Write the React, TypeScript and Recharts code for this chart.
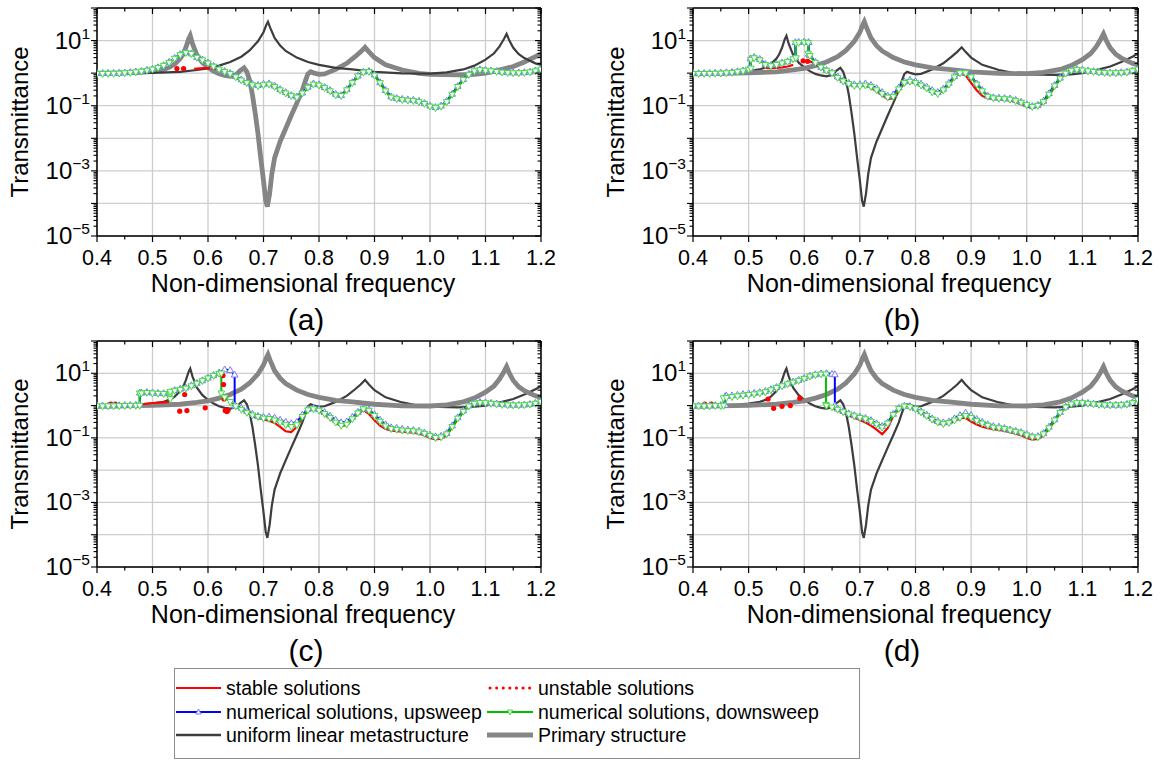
import React from 'react';
import { LineChart, Line, XAxis, YAxis, CartesianGrid } from 'recharts';

const FONT = '"Liberation Sans", Arial, Helvetica, sans-serif';

// frequency grid shared by the sweep / solution curves
const FREQ = [
  0.40, 0.41, 0.42, 0.43, 0.44, 0.45, 0.46, 0.47, 0.48, 0.49,
  0.50, 0.51, 0.52, 0.53, 0.54, 0.55, 0.56, 0.57, 0.58, 0.59,
  0.60, 0.61, 0.62, 0.63, 0.64, 0.65, 0.66, 0.67, 0.68, 0.69,
  0.70, 0.71, 0.72, 0.73, 0.74, 0.75, 0.76, 0.77, 0.78, 0.79,
  0.80, 0.81, 0.82, 0.83, 0.84, 0.85, 0.86, 0.87, 0.88, 0.89,
  0.90, 0.91, 0.92, 0.93, 0.94, 0.95, 0.96, 0.97, 0.98, 0.99,
  1.00, 1.01, 1.02, 1.03, 1.04, 1.05, 1.06, 1.07, 1.08, 1.09,
  1.10, 1.11, 1.12, 1.13, 1.14, 1.15, 1.16, 1.17, 1.18, 1.19,
  1.20,
];

const X_MAJOR = [0.4, 0.5, 0.6, 0.7, 0.8, 0.9, 1.0, 1.1, 1.2];
const X_LABELS = ['0.4', '0.5', '0.6', '0.7', '0.8', '0.9', '1.0', '1.1', '1.2'];
const X_MINOR = [0.45, 0.55, 0.65, 0.75, 0.85, 0.95, 1.05, 1.15];
const Y_DECADES = [1e-5, 1e-4, 1e-3, 1e-2, 1e-1, 1, 10, 100];
const Y_LABELED = [1e-5, 1e-3, 1e-1, 10];
const Y_EXPONENTS = ['\u22125', '\u22123', '\u22121', '1'];

// linear reference curves [frequency, transmittance]
const METASTRUCTURE = [
  [0.40, 1.0], [0.44, 1.02], [0.48, 1.08], [0.50, 1.15], [0.52, 1.3], [0.53, 1.5], [0.54, 1.9],
  [0.55, 2.8], [0.555, 3.8], [0.56, 6], [0.565, 11], [0.568, 14], [0.572, 8], [0.58, 3.6],
  [0.59, 2.1], [0.60, 1.5], [0.61, 1.15], [0.62, 0.95], [0.63, 0.85], [0.64, 0.8], [0.65, 0.88],
  [0.658, 1.2], [0.665, 1.45], [0.67, 1.1], [0.675, 0.6], [0.68, 0.22], [0.685, 0.06],
  [0.69, 0.014], [0.695, 0.0025], [0.70, 0.0005], [0.704, 0.00012], [0.707, 0.00008],
  [0.711, 0.0002], [0.715, 0.0008], [0.72, 0.0025], [0.73, 0.008], [0.74, 0.02], [0.75, 0.05],
  [0.76, 0.12], [0.77, 0.3], [0.775, 0.55], [0.78, 0.95], [0.785, 1.1], [0.79, 1.02],
  [0.80, 0.92], [0.81, 0.95], [0.83, 1.3], [0.85, 2.0], [0.865, 3.2], [0.875, 4.5],
  [0.883, 6.2], [0.89, 4.5], [0.90, 3.0], [0.92, 1.8], [0.95, 1.25], [0.98, 0.98], [1.0, 0.92],
  [1.05, 0.88], [1.08, 0.92], [1.10, 1.0], [1.13, 1.3], [1.15, 1.6], [1.17, 2.2], [1.19, 3.2],
  [1.20, 4.0],
];

const PRIMARY = [
  [0.40, 0.95], [0.45, 0.98], [0.50, 1.02], [0.55, 1.1], [0.58, 1.25], [0.60, 1.4], [0.62, 1.7],
  [0.64, 2.2], [0.66, 3.2], [0.675, 5], [0.69, 9.5], [0.70, 18], [0.705, 30], [0.708, 38],
  [0.712, 25], [0.72, 12], [0.73, 7], [0.74, 4.8], [0.76, 3], [0.78, 2.2], [0.80, 1.8],
  [0.83, 1.45], [0.86, 1.3], [0.90, 1.1], [0.95, 0.98], [1.00, 0.97], [1.03, 1.05], [1.06, 1.3],
  [1.08, 1.7], [1.10, 2.6], [1.115, 4], [1.125, 6.5], [1.133, 11], [1.138, 16], [1.143, 10],
  [1.15, 6], [1.16, 3.8], [1.17, 2.9], [1.18, 2.4], [1.19, 2.0], [1.20, 1.8],
];

// (a)
const DOWN_A = [
  0.95, 0.95, 0.96, 0.97, 0.98, 1.0, 1.03, 1.07, 1.12, 1.2,
  1.3, 1.45, 1.7, 2.1, 2.8, 3.6, 4.2, 3.9, 3.0, 2.5,
  2.0, 1.6, 1.3, 1.1, 0.95, 0.75, 0.6, 0.5, 0.43, 0.4,
  0.43, 0.45, 0.38, 0.3, 0.24, 0.2, 0.18, 0.24, 0.36, 0.45,
  0.42, 0.35, 0.28, 0.21, 0.2, 0.3, 0.5, 0.8, 1.05, 1.1,
  0.85, 0.5, 0.28, 0.18, 0.16, 0.15, 0.145, 0.14, 0.13, 0.115,
  0.095, 0.085, 0.095, 0.13, 0.22, 0.38, 0.62, 0.9, 1.15, 1.25,
  1.2, 1.15, 1.1, 1.05, 1.02, 1.0, 1.0, 1.02, 1.07, 1.15,
  1.3,
];
const UP_A = [
  1.0, 1.0, 1.0, 1.01, 1.02, 1.04, 1.07, 1.11, 1.17, 1.25,
  1.35, 1.5, 1.75, 2.2, 2.9, 3.8, 4.4, 4.0, 3.1, 2.6,
  2.1, 1.65, 1.35, 1.15, 1.0, 0.8, 0.64, 0.53, 0.46, 0.43,
  0.47, 0.48, 0.41, 0.32, 0.26, 0.21, 0.19, 0.25, 0.38, 0.48,
  0.45, 0.37, 0.3, 0.23, 0.21, 0.32, 0.52, 0.83, 1.1, 1.15,
  0.9, 0.52, 0.3, 0.19, 0.17, 0.16, 0.155, 0.15, 0.14, 0.12,
  0.1, 0.09, 0.1, 0.14, 0.23, 0.4, 0.65, 0.95, 1.2, 1.3,
  1.25, 1.2, 1.15, 1.1, 1.06, 1.04, 1.04, 1.06, 1.1, 1.2,
  1.35,
];
const STABLE_A = [
  0.97, 0.97, 0.98, 0.99, 1.0, 1.02, 1.05, 1.09, 1.14, 1.22,
  1.32, 1.47, 1.72, 2.15, 2.85, 3.7, 4.3, null, null, null,
  null, null, 1.3, 1.1, 0.95, 0.75, 0.6, 0.5, 0.43, 0.4,
  0.43, 0.45, 0.38, 0.3, 0.24, 0.2, 0.18, 0.24, 0.36, 0.45,
  0.42, 0.35, 0.28, 0.21, 0.2, 0.3, 0.5, 0.8, 1.05, 1.1,
  0.85, 0.5, 0.28, 0.18, 0.16, 0.15, 0.145, 0.14, 0.13, 0.115,
  0.095, 0.085, 0.095, 0.13, 0.22, 0.38, 0.62, 0.9, 1.15, 1.25,
  1.2, 1.15, 1.1, 1.05, 1.02, 1.0, 1.0, 1.02, 1.07, 1.15,
  1.3,
];
const LOWER_A = [[0.575, 1.36], [0.585, 1.4], [0.595, 1.43], [0.605, 1.42], [0.615, 1.36], [0.62, 1.3]];
const UNSTABLE_A = [[0.544, 1.38], [0.556, 1.38]];

// (b)
const DOWN_B = [
  0.95, 0.95, 0.96, 0.96, 0.97, 0.98, 1.0, 1.03, 1.08, 1.15,
  1.3, 2.9, 2.5, 1.8, 1.65, 1.8, 2.0, 2.2, 2.7, 8.6,
  8.8, 3.4, 2.1, 1.5, 1.2, 1.0, 0.72, 0.56, 0.47, 0.41,
  0.4, 0.42, 0.38, 0.3, 0.23, 0.18, 0.19, 0.32, 0.5, 0.55,
  0.5, 0.42, 0.34, 0.26, 0.23, 0.3, 0.45, 0.75, 1.0, 1.0,
  0.75, 0.45, 0.28, 0.19, 0.17, 0.165, 0.16, 0.155, 0.14, 0.125,
  0.105, 0.092, 0.1, 0.13, 0.22, 0.4, 0.68, 0.98, 1.2, 1.28,
  1.22, 1.15, 1.1, 1.05, 1.02, 1.0, 1.0, 1.02, 1.06, 1.15,
  1.3,
];
const DOWN_B_JUMPS = [[0.504, 1.4], [0.504, 2.6], [0.585, 2.9], [0.585, 8.4], [0.607, 8.5], [0.607, 4.0]];
const UP_B = [
  1.0, 1.0, 1.0, 1.01, 1.02, 1.03, 1.05, 1.08, 1.13, 1.2,
  1.35, 3.1, 2.7, 1.9, 1.75, 1.9, 2.1, 2.3, 2.8, 9.0,
  9.2, 3.5, 2.2, 1.55, 1.25, 1.05, 0.78, 0.6, 0.5, 0.45,
  0.45, 0.48, 0.43, 0.34, 0.26, 0.2, 0.22, 0.36, 0.55, 0.62,
  0.56, 0.47, 0.38, 0.3, 0.26, 0.33, 0.5, 0.8, 1.05, 1.05,
  0.8, 0.48, 0.3, 0.2, 0.18, 0.175, 0.17, 0.165, 0.15, 0.13,
  0.11, 0.097, 0.105, 0.14, 0.24, 0.43, 0.72, 1.02, 1.25, 1.32,
  1.27, 1.2, 1.15, 1.1, 1.06, 1.04, 1.04, 1.06, 1.1, 1.2,
  1.35,
];
const UP_B_JUMPS = [[0.503, 1.45], [0.503, 2.8], [0.584, 3.0], [0.584, 8.8], [0.608, 8.9], [0.608, 3.9]];
const STABLE_B = [
  0.97, 0.97, 0.98, 0.98, 0.99, 1.0, 1.02, 1.05, 1.1, 1.17,
  1.32, null, null, 1.45, 1.42, 1.45, 1.5, 1.6, 1.8, null,
  null, 2.3, 1.9, 1.45, 1.15, 0.95, 0.7, 0.55, 0.46, 0.41,
  0.4, 0.41, 0.36, 0.28, 0.21, 0.16, 0.17, 0.3, 0.48, 0.54,
  0.5, 0.42, 0.34, 0.26, 0.23, 0.3, 0.45, 0.75, 1.0, 0.85,
  0.5, 0.3, 0.2, 0.17, 0.16, 0.155, 0.15, 0.145, 0.13, 0.115,
  0.095, 0.088, 0.095, 0.125, 0.21, 0.38, 0.66, 0.96, 1.18, 1.27,
  1.22, 1.15, 1.1, 1.05, 1.02, 1.0, 1.0, 1.02, 1.06, 1.15,
  1.3,
];
const UNSTABLE_B = [[0.598, 2.4], [0.606, 2.3]];

// (c)
const DOWN_C = [
  0.95, 0.95, 0.96, 0.96, 0.97, 0.98, 0.99, 1.0, 2.4, 2.5,
  2.4, 2.35, 2.3, 2.3, 2.9, 3.1, 3.4, 4.0, 4.8, 5.8,
  7.0, 8.4, 9.8, 1.8, 1.3, 0.95, 0.75, 0.6, 0.5, 0.45,
  0.4, 0.39, 0.35, 0.3, 0.25, 0.22, 0.25, 0.45, 0.72, 0.78,
  0.7, 0.55, 0.42, 0.3, 0.24, 0.26, 0.38, 0.58, 0.78, 0.7,
  0.48, 0.32, 0.23, 0.19, 0.18, 0.17, 0.165, 0.16, 0.15, 0.135,
  0.115, 0.1, 0.105, 0.13, 0.22, 0.4, 0.65, 0.95, 1.15, 1.22,
  1.2, 1.15, 1.1, 1.06, 1.03, 1.02, 1.02, 1.04, 1.08, 1.15,
  1.3,
];
const DOWN_C_JUMPS = [[0.477, 1.0], [0.477, 2.4], [0.532, 2.3], [0.532, 1.6], [0.532, 2.7], [0.624, 10], [0.624, 2.4]];
const UP_C = [
  1.0, 1.0, 1.0, 1.01, 1.02, 1.03, 1.04, 1.05, 2.5, 2.6,
  2.5, 2.45, 2.4, 2.45, 3.0, 3.3, 3.6, 4.2, 5.0, 6.0,
  7.3, 8.8, 10.5, 13, 12.5, 0.98, 0.85, 0.68, 0.55, 0.47,
  0.44, 0.45, 0.42, 0.36, 0.31, 0.28, 0.31, 0.52, 0.78, 0.84,
  0.77, 0.62, 0.48, 0.36, 0.3, 0.32, 0.44, 0.63, 0.82, 0.76,
  0.53, 0.36, 0.26, 0.21, 0.2, 0.19, 0.18, 0.175, 0.165, 0.145,
  0.125, 0.11, 0.115, 0.14, 0.24, 0.43, 0.7, 1.0, 1.2, 1.28,
  1.25, 1.2, 1.15, 1.1, 1.07, 1.05, 1.05, 1.07, 1.11, 1.2,
  1.35,
];
const UP_C_JUMPS = [[0.477, 1.05], [0.477, 2.5], [0.648, 9], [0.648, 1.0]];
const STABLE_C = [
  0.97, 0.97, 0.98, 0.98, 0.99, 1.0, 1.01, 1.03, 1.1, 1.15,
  1.2, 1.23, 1.26, 1.3, null, null, null, null, null, null,
  null, null, null, null, null, 0.95, 0.78, 0.6, 0.48, 0.41,
  0.37, 0.34, 0.29, 0.22, 0.16, 0.15, 0.22, 0.42, 0.7, 0.76,
  0.68, 0.53, 0.4, 0.29, 0.23, 0.25, 0.37, 0.56, 0.72, 0.55,
  0.35, 0.24, 0.19, 0.17, 0.16, 0.155, 0.15, 0.145, 0.135, 0.12,
  0.1, 0.09, 0.095, 0.12, 0.21, 0.38, 0.63, 0.93, 1.13, 1.2,
  1.18, 1.13, 1.08, 1.05, 1.02, 1.01, 1.01, 1.03, 1.07, 1.14,
  1.28,
];
const UNSTABLE_C = [
  [0.425, 1.12], [0.433, 1.12], [0.549, 0.67], [0.562, 0.7], [0.558, 2.2], [0.595, 0.85],
  [0.627, 8.5], [0.628, 4.5], [0.629, 1.6], [0.631, 0.7], [0.634, 0.65], [0.636, 0.72],
];

// (d)
const DOWN_D = [
  0.95, 0.95, 0.95, 0.96, 0.97, 0.98, 1.75, 1.85, 1.95, 2.05,
  2.15, 2.25, 2.4, 2.6, 3.0, 3.5, 4.0, 4.6, 5.2, 5.9,
  6.8, 8.0, 8.8, 9.3, 1.0, 0.88, 0.75, 0.63, 0.54, 0.47,
  0.42, 0.38, 0.32, 0.26, 0.21, 0.28, 0.52, 0.8, 0.95, 0.9,
  0.78, 0.62, 0.48, 0.37, 0.3, 0.27, 0.29, 0.35, 0.42, 0.48,
  0.42, 0.34, 0.28, 0.24, 0.21, 0.2, 0.19, 0.17, 0.155, 0.14,
  0.12, 0.105, 0.105, 0.13, 0.2, 0.35, 0.6, 0.88, 1.1, 1.2,
  1.2, 1.15, 1.1, 1.06, 1.03, 1.02, 1.02, 1.04, 1.08, 1.2,
  1.5,
];
const DOWN_D_JUMPS = [[0.455, 1.0], [0.455, 1.7], [0.639, 9.3], [0.639, 1.05]];
const UP_D = [
  1.0, 1.0, 1.0, 1.01, 1.02, 1.03, 2.0, 2.05, 2.15, 2.25,
  2.35, 2.45, 2.6, 2.8, 3.2, 3.7, 4.2, 4.8, 5.5, 6.2,
  7.1, 8.4, 9.2, 9.8, 10, 9.5, 0.8, 0.67, 0.57, 0.5,
  0.45, 0.41, 0.35, 0.28, 0.23, 0.3, 0.55, 0.84, 0.98, 0.95,
  0.82, 0.66, 0.52, 0.4, 0.33, 0.3, 0.32, 0.4, 0.5, 0.6,
  0.5, 0.38, 0.31, 0.26, 0.23, 0.22, 0.2, 0.18, 0.165, 0.15,
  0.13, 0.112, 0.112, 0.14, 0.22, 0.37, 0.63, 0.92, 1.15, 1.25,
  1.25, 1.2, 1.14, 1.1, 1.07, 1.05, 1.05, 1.07, 1.12, 1.25,
  1.55,
];
const UP_D_JUMPS = [[0.458, 1.03], [0.458, 1.95], [0.655, 9.2], [0.655, 1.0]];
const STABLE_D = [
  0.97, 0.97, 0.97, 0.98, 0.99, 1.0, null, null, null, null,
  null, null, null, null, null, null, null, null, null, null,
  null, null, null, null, 0.98, 0.86, 0.72, 0.6, 0.5, 0.42,
  0.36, 0.3, 0.24, 0.18, 0.13, 0.2, 0.48, 0.78, 0.95, 0.88,
  0.76, 0.6, 0.46, 0.35, 0.28, 0.26, 0.28, 0.33, 0.4, 0.42,
  0.32, 0.26, 0.22, 0.2, 0.185, 0.175, 0.165, 0.15, 0.135, 0.12,
  0.1, 0.088, 0.092, 0.12, 0.19, 0.33, 0.58, 0.86, 1.08, 1.18,
  1.18, 1.13, 1.08, 1.05, 1.02, 1.01, 1.01, 1.03, 1.08, 1.22,
  1.6,
];
const UNSTABLE_D = [[0.421, 1.12], [0.433, 1.12], [0.535, 1.6], [0.545, 0.82], [0.56, 0.95], [0.575, 1.0], [0.592, 1.7]];

const Y_MINOR = Y_DECADES.slice(0, -1).flatMap((d) => [2, 3, 4, 5, 6, 7, 8, 9].map((m) => m * d));
const Y_TICKS = [...Y_DECADES, ...Y_MINOR].sort((a, b) => a - b);
const X_TICKS = [...X_MAJOR, ...X_MINOR].sort((a, b) => a - b);

type Pt = { f: number; t: number | null };

const onGrid = (values: (number | null)[], jumps: number[][] = []): Pt[] => {
  const pts: Pt[] = FREQ.map((f, i) => ({ f, t: values[i] }));
  jumps.forEach(([f, t]) => pts.push({ f, t }));
  return pts.sort((a, b) => a.f - b.f);
};
const fromPairs = (pairs: number[][]): Pt[] => pairs.map(([f, t]) => ({ f, t }));

const xMajorIndex = (v: number) => X_MAJOR.findIndex((m) => Math.abs(m - v) < 1e-6);

const BottomTick = ({ x, y, payload }: any) => {
  const i = xMajorIndex(payload.value);
  return (
    <g>
      <line x1={x} x2={x} y1={y} y2={y + (i >= 0 ? 6 : 3.5)} stroke="#000" strokeWidth={1.2} />
      {i >= 0 && (
        <text x={x} y={y + 29} textAnchor="middle" fontSize={21.5} fontFamily={FONT} fill="#000">
          {X_LABELS[i]}
        </text>
      )}
    </g>
  );
};

const TopTick = ({ x, y, payload }: any) => {
  const i = xMajorIndex(payload.value);
  return <line x1={x} x2={x} y1={y} y2={y + (i >= 0 ? 6 : 3.5)} stroke="#000" strokeWidth={1.2} />;
};

const LeftTick = ({ x, y, payload }: any) => {
  const v = payload.value;
  const major = Y_DECADES.includes(v);
  const li = Y_LABELED.indexOf(v);
  return (
    <g>
      <line x1={x - (major ? 6 : 3.5)} x2={x} y1={y} y2={y} stroke="#000" strokeWidth={1.1} />
      {li >= 0 && (
        <text x={x - 7} y={y + 8} textAnchor="end" fontSize={24} fontFamily={FONT} fill="#000">
          10<tspan dy={-10} fontSize={15.5}>{Y_EXPONENTS[li]}</tspan>
        </text>
      )}
    </g>
  );
};

const RightTick = ({ x, y, payload }: any) => {
  const major = Y_DECADES.includes(payload.value);
  return <line x1={x - (major ? 6 : 3.5)} x2={x} y1={y} y2={y} stroke="#000" strokeWidth={1.1} />;
};

const upMarker = (p: any) => {
  const { cx, cy, index } = p;
  if (cx == null || cy == null || isNaN(cy)) return <g key={`u${index}`} />;
  return (
    <path
      key={`u${index}`}
      d={`M${cx},${cy - 3.6}L${cx + 3.3},${cy + 2.3}L${cx - 3.3},${cy + 2.3}Z`}
      fill="#fff"
      stroke="#7878ff"
      strokeWidth={1}
    />
  );
};

const downMarker = (p: any) => {
  const { cx, cy, index } = p;
  if (cx == null || cy == null || isNaN(cy)) return <g key={`d${index}`} />;
  return (
    <path
      key={`d${index}`}
      d={`M${cx},${cy + 3.6}L${cx + 3.3},${cy - 2.3}L${cx - 3.3},${cy - 2.3}Z`}
      fill="#fff"
      stroke="#3ddd3d"
      strokeWidth={1}
    />
  );
};

const redDot = (p: any) => {
  const { cx, cy, index } = p;
  if (cx == null || cy == null || isNaN(cy)) return <g key={`r${index}`} />;
  return <circle key={`r${index}`} cx={cx} cy={cy} r={2.6} fill="#ff0000" />;
};

type PanelProps = {
  left: number;
  top: number;
  width: number;
  margin: { top: number; right: number; bottom: number; left: number };
  down: Pt[];
  up: Pt[];
  stable: Pt[];
  lower?: Pt[];
  unstable: Pt[];
  swapStyles?: boolean;
};

const THIN = { stroke: '#3d3d3d', width: 2.2 };
const THICK = { stroke: '#858585', width: 4.8 };

// left axis box is 60px wide, bottom axis box 30px tall, top/right boxes 1px
const Panel = ({ left, top, width, margin, down, up, stable, lower, unstable, swapStyles }: PanelProps) => {
  const metaStyle = swapStyles ? THICK : THIN;
  const primStyle = swapStyles ? THIN : THICK;
  return (
    <div style={{ position: 'absolute', left, top }}>
      <LineChart width={width} height={330} margin={margin}>
        <CartesianGrid stroke="#cdcdcd" strokeWidth={1.3} horizontalValues={Y_DECADES} verticalValues={X_MAJOR} />
        <XAxis
          dataKey="f"
          type="number"
          domain={[0.4, 1.2]}
          allowDataOverflow
          ticks={X_TICKS}
          interval={0}
          height={30}
          tickSize={0}
          tickMargin={0}
          tickLine={false}
          tick={BottomTick}
          axisLine={{ stroke: '#000', strokeWidth: 1.5 }}
        />
        <XAxis
          xAxisId="top"
          orientation="top"
          dataKey="f"
          type="number"
          domain={[0.4, 1.2]}
          allowDataOverflow
          ticks={X_TICKS}
          interval={0}
          height={1}
          tickSize={0}
          tickMargin={0}
          tickLine={false}
          tick={TopTick}
          axisLine={{ stroke: '#000', strokeWidth: 1.5 }}
        />
        <YAxis
          type="number"
          scale="log"
          domain={[1e-5, 100]}
          allowDataOverflow
          ticks={Y_TICKS}
          interval={0}
          width={60}
          tickSize={0}
          tickMargin={0}
          tickLine={false}
          tick={LeftTick}
          axisLine={{ stroke: '#000', strokeWidth: 1.5 }}
        />
        <YAxis
          yAxisId="right"
          orientation="right"
          type="number"
          scale="log"
          domain={[1e-5, 100]}
          allowDataOverflow
          ticks={Y_TICKS}
          interval={0}
          width={1}
          tickSize={0}
          tickMargin={0}
          tickLine={false}
          tick={RightTick}
          axisLine={{ stroke: '#000', strokeWidth: 1.5 }}
        />
        <Line data={fromPairs(METASTRUCTURE)} dataKey="t" stroke={metaStyle.stroke} strokeWidth={metaStyle.width} dot={false} isAnimationActive={false} />
        <Line data={fromPairs(PRIMARY)} dataKey="t" stroke={primStyle.stroke} strokeWidth={primStyle.width} dot={false} isAnimationActive={false} />
        <Line data={stable} dataKey="t" stroke="#ff0000" strokeWidth={2.2} dot={false} connectNulls={false} isAnimationActive={false} />
        {lower && <Line data={lower} dataKey="t" stroke="#ff0000" strokeWidth={2.2} dot={false} isAnimationActive={false} />}
        <Line data={unstable} dataKey="t" stroke="none" dot={redDot} isAnimationActive={false} />
        <Line data={up} dataKey="t" stroke="#0000ff" strokeWidth={2} dot={upMarker} isAnimationActive={false} />
        <Line data={down} dataKey="t" stroke="#00c000" strokeWidth={2} dot={downMarker} isAnimationActive={false} />
      </LineChart>
    </div>
  );
};

const Label = ({ x, y, size, rotate, children }: any) => (
  <div
    style={{
      position: 'absolute',
      left: x,
      top: y,
      transform: `translate(-50%, -50%)${rotate ? ' rotate(-90deg)' : ''}`,
      fontFamily: FONT,
      fontSize: size,
      color: '#000',
      whiteSpace: 'nowrap',
      lineHeight: 1,
    }}
  >
    {children}
  </div>
);

const LEGEND_ROWS = [
  ['stable solutions', 'unstable solutions'],
  ['numerical solutions, upsweep', 'numerical solutions, downsweep'],
  ['uniform linear metastructure', 'Primary structure'],
];

const Legend = () => {
  const rowY = [20, 44, 67];
  const col = [{ s: 2, e: 47, t: 52 }, { s: 313, e: 359, t: 364 }];
  const mid0 = (col[0].s + col[0].e) / 2;
  const mid1 = (col[1].s + col[1].e) / 2;
  const samples = [
    [
      <line key="s" x1={col[0].s} x2={col[0].e} y1={rowY[0]} y2={rowY[0]} stroke="#ff0000" strokeWidth={2.2} />,
      <line key="u" x1={col[1].s + 3} x2={col[1].e} y1={rowY[0]} y2={rowY[0]} stroke="#ff0000" strokeWidth={3} strokeDasharray="0.1 6.5" strokeLinecap="round" />,
    ],
    [
      <g key="up">
        <line x1={col[0].s} x2={col[0].e} y1={rowY[1]} y2={rowY[1]} stroke="#0000ff" strokeWidth={2.2} />
        <path d={`M${mid0},${rowY[1] - 3}L${mid0 + 2.6},${rowY[1] + 2}L${mid0 - 2.6},${rowY[1] + 2}Z`} fill="#fff" stroke="#7878ff" />
      </g>,
      <g key="dn">
        <line x1={col[1].s} x2={col[1].e} y1={rowY[1]} y2={rowY[1]} stroke="#00c000" strokeWidth={2.2} />
        <path d={`M${mid1},${rowY[1] + 3}L${mid1 + 2.6},${rowY[1] - 2}L${mid1 - 2.6},${rowY[1] - 2}Z`} fill="#fff" stroke="#3ddd3d" />
      </g>,
    ],
    [
      <line key="m" x1={col[0].s} x2={col[0].e} y1={rowY[2]} y2={rowY[2]} stroke={THIN.stroke} strokeWidth={2.4} />,
      <line key="p" x1={col[1].s} x2={col[1].e} y1={rowY[2]} y2={rowY[2]} stroke={THICK.stroke} strokeWidth={5} />,
    ],
  ];
  return (
    <svg width={686} height={91} style={{ position: 'absolute', left: 174, top: 668 }}>
      <rect x={0.5} y={0.5} width={685} height={90} fill="#fff" stroke="#8c8c8c" strokeWidth={1} />
      {LEGEND_ROWS.map((row, r) => (
        <g key={r}>
          {samples[r]}
          {row.map((txt, c) => (
            <text key={c} x={col[c].t} y={rowY[r] + 7} fontSize={19.5} fontFamily={FONT} fill="#000">
              {txt}
            </text>
          ))}
        </g>
      ))}
    </svg>
  );
};

const LEFT_MARGIN = { right: 38, left: 37 };
const RIGHT_MARGIN = { right: 28, left: 53 };

export default function App() {
  return (
    <div style={{ position: 'relative', width: 1167, height: 765, background: '#fff', overflow: 'hidden' }}>
      <style>{'body{margin:0;}'}</style>
      <Panel
        left={0}
        top={0}
        width={580}
        margin={{ top: 7, bottom: 64, ...LEFT_MARGIN }}
        down={onGrid(DOWN_A)}
        up={onGrid(UP_A)}
        stable={onGrid(STABLE_A)}
        lower={fromPairs(LOWER_A)}
        unstable={fromPairs(UNSTABLE_A)}
        swapStyles
      />
      <Panel
        left={580}
        top={0}
        width={587}
        margin={{ top: 7, bottom: 64, ...RIGHT_MARGIN }}
        down={onGrid(DOWN_B, DOWN_B_JUMPS)}
        up={onGrid(UP_B, UP_B_JUMPS)}
        stable={onGrid(STABLE_B)}
        unstable={fromPairs(UNSTABLE_B)}
      />
      <Panel
        left={0}
        top={330}
        width={580}
        margin={{ top: 10, bottom: 63, ...LEFT_MARGIN }}
        down={onGrid(DOWN_C, DOWN_C_JUMPS)}
        up={onGrid(UP_C, UP_C_JUMPS)}
        stable={onGrid(STABLE_C)}
        unstable={fromPairs(UNSTABLE_C)}
      />
      <Panel
        left={580}
        top={330}
        width={587}
        margin={{ top: 10, bottom: 63, ...RIGHT_MARGIN }}
        down={onGrid(DOWN_D, DOWN_D_JUMPS)}
        up={onGrid(UP_D, UP_D_JUMPS)}
        stable={onGrid(STABLE_D)}
        unstable={fromPairs(UNSTABLE_D)}
      />

      <Label x={20} y={122} size={24} rotate>Transmittance</Label>
      <Label x={616} y={122} size={24} rotate>Transmittance</Label>
      <Label x={20} y={454} size={24} rotate>Transmittance</Label>
      <Label x={616} y={454} size={24} rotate>Transmittance</Label>

      <Label x={303} y={283} size={25}>Non-dimensional frequency</Label>
      <Label x={899} y={283} size={25}>Non-dimensional frequency</Label>
      <Label x={303} y={614} size={25}>Non-dimensional frequency</Label>
      <Label x={899} y={614} size={25}>Non-dimensional frequency</Label>

      <Label x={306} y={320} size={30}>(a)</Label>
      <Label x={902} y={320} size={30}>(b)</Label>
      <Label x={306} y={651} size={30}>(c)</Label>
      <Label x={902} y={651} size={30}>(d)</Label>

      <Legend />
    </div>
  );
}
